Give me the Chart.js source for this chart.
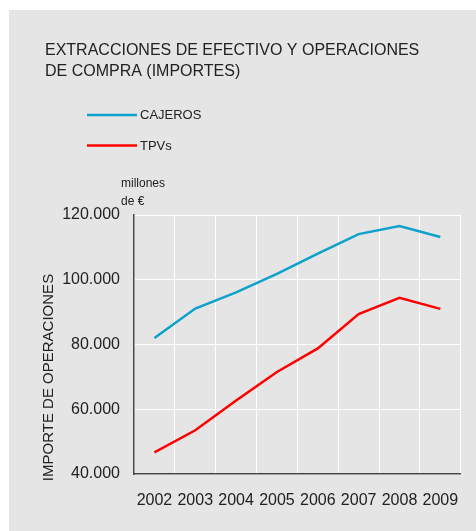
<!DOCTYPE html>
<html>
<head>
<meta charset="utf-8">
<script src="https://cdn.jsdelivr.net/npm/chart.js"></script>
<style>
  body { margin: 0; background: #fff; }
  #panel { position: absolute; left: 9px; top: 10px; width: 467px; height: 521px; background: #e5e5e5; }
</style>
</head>
<body>
<div id="panel"><canvas id="myChart" width="467" height="521"></canvas></div>
<script>
const years = ['2002', '2003', '2004', '2005', '2006', '2007', '2008', '2009']
const cajeros = [82000, 91100, 96100, 101800, 108100, 114100, 116600, 113200]
const tpvs = [46700, 53500, 62700, 71500, 78800, 89400, 94400, 91000]
const titleLines = ['EXTRACCIONES DE EFECTIVO Y OPERACIONES', 'DE COMPRA (IMPORTES)']
const unitLines = ['millones', 'de €']
const yTitle = 'IMPORTE DE OPERACIONES'

const FONT = '"Liberation Sans", Arial, Helvetica, sans-serif'
const TEXT = '#222'

const fmt = v => String(v).replace(/\B(?=(\d{3})+(?!\d))/g, '.')

// titles, legend and units drawn on the canvas
const extras = {
  id: 'extras',
  afterDraw(chart){
    const ctx = chart.ctx
    ctx.save()
    ctx.fillStyle = TEXT
    ctx.textAlign = 'left'
    ctx.textBaseline = 'alphabetic'
    ctx.font = '16px ' + FONT
    ctx.fillText(titleLines[0], 36, 45)
    ctx.fillText(titleLines[1], 36, 66)

    ctx.textBaseline = 'middle'
    ctx.font = '13px ' + FONT
    chart.data.datasets.forEach((ds, i)=>{
      const y = 105 + i * 30.5
      ctx.strokeStyle = ds.borderColor
      ctx.lineWidth = 2.5
      ctx.beginPath()
      ctx.moveTo(78, y)
      ctx.lineTo(128, y)
      ctx.stroke()
      ctx.fillText(ds.label, 131, y + 0.5)
    })

    ctx.textBaseline = 'alphabetic'
    ctx.font = '12px ' + FONT
    ctx.fillText(unitLines[0], 112, 177)
    ctx.fillText(unitLines[1], 112, 195)

    ctx.font = '15px ' + FONT
    ctx.translate(40, 367.5)
    ctx.rotate(-Math.PI / 2)
    ctx.textAlign = 'center'
    ctx.textBaseline = 'middle'
    ctx.fillText(yTitle, 0, 0)
    ctx.restore()
  }
}

const config = {
  type: 'line',
  data: {
    labels: years,
    datasets: [
      { label: 'CAJEROS', data: cajeros, borderColor: 'rgb(12,162,204)', borderWidth: 2.5, pointRadius: 0, tension: 0 },
      { label: 'TPVs', data: tpvs, borderColor: 'rgb(255,0,0)', borderWidth: 2.5, pointRadius: 0, tension: 0 }
    ]
  },
  options: {
    responsive: false,
    animation: false,
    layout: { padding: { top: 205, right: 14, left: 0, bottom: 0 } },
    plugins: {
      legend: { display: false },
      title: { display: false },
      tooltip: { enabled: false }
    },
    scales: {
      x: {
        offset: true,
        grid: { offset: true, color: '#fff', lineWidth: 1, drawTicks: false },
        border: { color: '#444', width: 1.5 },
        ticks: { color: TEXT, font: { size: 16, family: FONT }, padding: 17, maxRotation: 0 },
        afterFit: s => { s.height = 57 }
      },
      y: {
        min: 40000,
        max: 120000,
        grid: { color: '#fff', lineWidth: 1, drawTicks: false },
        border: { color: '#444', width: 1.5 },
        ticks: { stepSize: 20000, color: TEXT, font: { size: 16, family: FONT }, padding: 14, callback: v => fmt(v) },
        afterFit: s => { s.width = 125 }
      }
    }
  },
  plugins: [extras]
}

new Chart(document.getElementById('myChart'), config)
</script>
</body>
</html>
